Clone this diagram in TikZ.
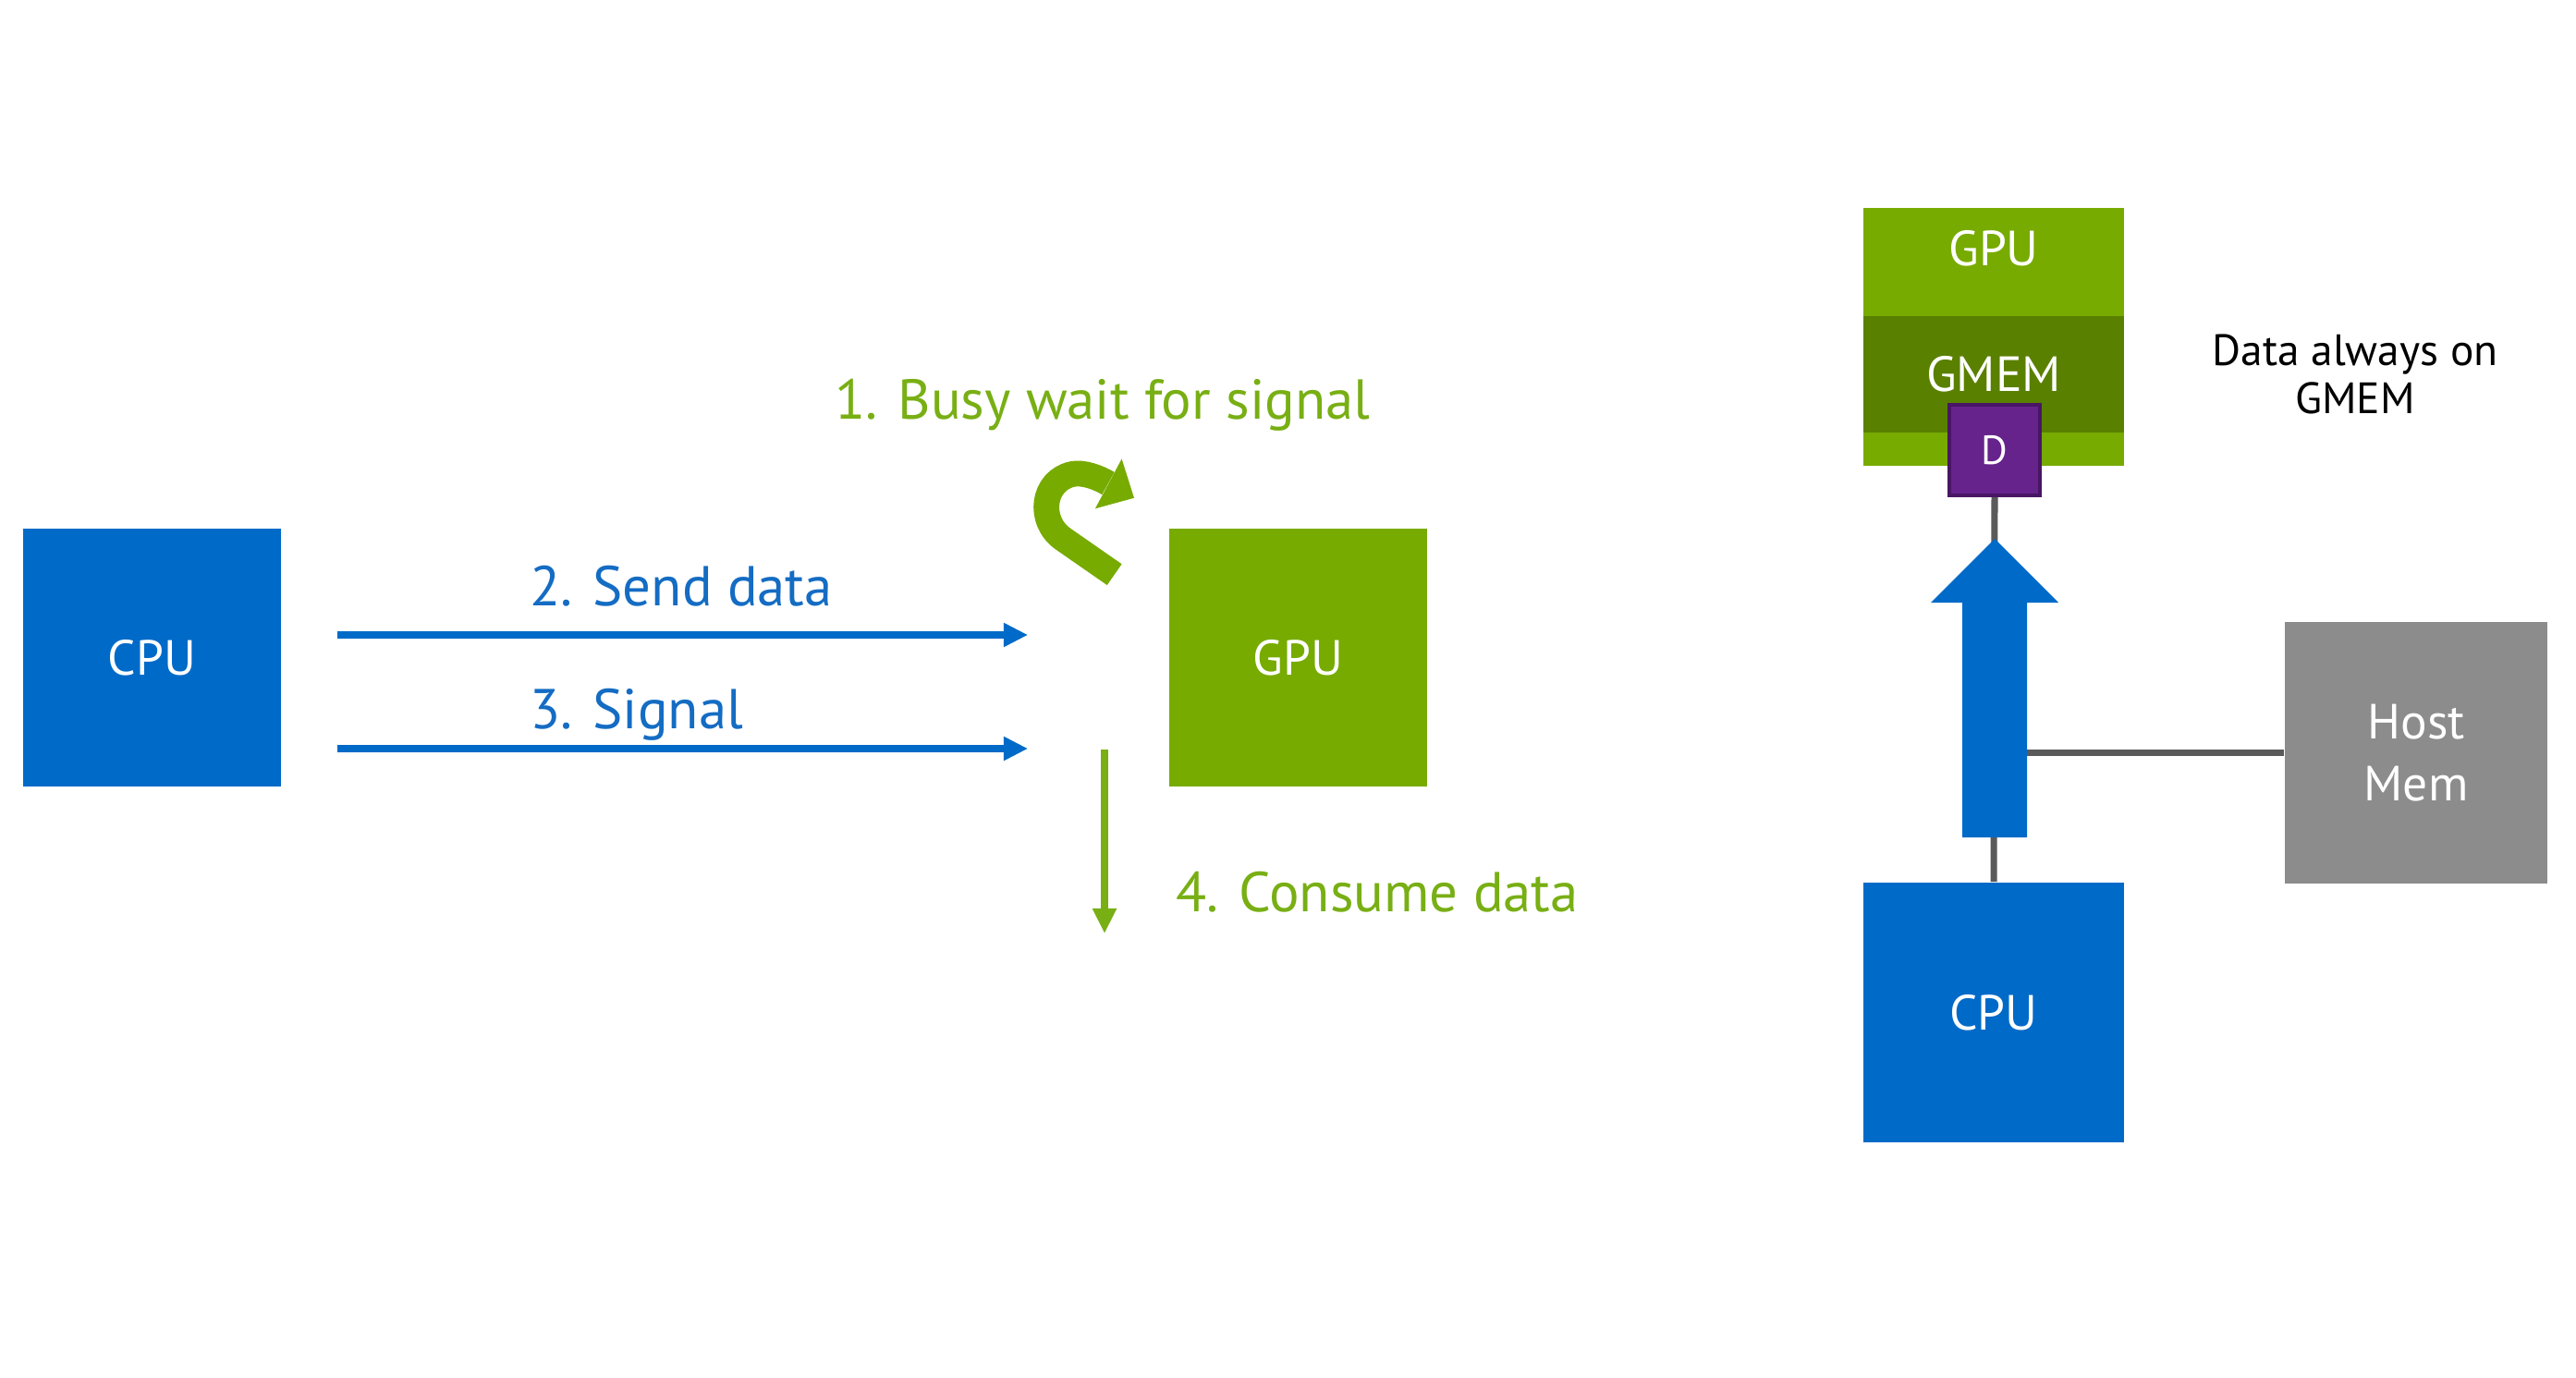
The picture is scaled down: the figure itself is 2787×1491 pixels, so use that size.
\documentclass[tikz,border=0pt]{standalone}
\usepackage{fontspec}
\setmainfont{PT Sans}
\usetikzlibrary{arrows.meta,calc}
\definecolor{nvblue}{RGB}{0,106,200}
\definecolor{nvgreen}{RGB}{119,171,0}
\definecolor{gmemgreen}{RGB}{90,128,0}
\definecolor{txtgreen}{RGB}{120,175,20}
\definecolor{txtblue}{RGB}{20,108,195}
\definecolor{dpurple}{RGB}{102,35,140}
\definecolor{dborder}{RGB}{72,22,100}
\definecolor{hostgrey}{RGB}{140,140,140}
\definecolor{wiregrey}{RGB}{90,90,90}
\begin{document}
\begin{tikzpicture}[x=0.01cm,y=-0.01cm,
  box/.style={rectangle, inner sep=0pt, minimum width=2.79cm, minimum height=2.79cm,
    text=white, font=\fontsize{15.2}{19}\selectfont},
  stackbox/.style={rectangle, inner sep=0pt, minimum width=2.82cm, text=white,
    font=\fontsize{15.2}{19}\selectfont},
  dbox/.style={rectangle, inner sep=0pt, minimum width=0.98cm, minimum height=0.98cm,
    fill=dpurple, draw=dborder, line width=1.2pt, text=white, font=\fontsize{12.5}{14}\selectfont},
  lbl/.style={inner sep=0pt, font=\fontsize{17.3}{20}\selectfont},
  note/.style={inner sep=0pt, align=center, font=\fontsize{13.5}{14.8}\selectfont, text=black},
  sig/.style={draw=nvblue, line width=2pt, -{Triangle[length=7.5pt,width=7pt]}},
  consume/.style={draw=txtgreen, line width=2.2pt, -{Triangle[length=7.7pt,width=7pt]}},
  wire/.style={draw=wiregrey, line width=2pt},
  loop/.style={draw=nvgreen, line width=7.9pt},
]
\useasboundingbox (0,0) rectangle (2787,1491);

% ---------- left part ----------
\node[box, fill=nvblue] (cpuL) at (164.5,711.5) {CPU};
\node[box, fill=nvgreen] (gpuL) at (1404.5,711.5) {GPU};

\coordinate (a2) at (0,687);
\coordinate (a3) at (0,810);
\draw[sig, shorten <=0.6cm, shorten >=1.52cm] (cpuL.east |- a2) -- (gpuL.west |- a2);
\draw[sig, shorten <=0.6cm, shorten >=1.52cm] (cpuL.east |- a3) -- (gpuL.west |- a3);

\node[lbl, text=txtblue, anchor=base west] (t2) at (573,655) {2. Send data};
\node[lbl, text=txtblue, anchor=base west] (t3) at (573,788) {3. Signal};
\node[lbl, text=txtgreen, anchor=base west] (t1) at (903,453) {1. Busy wait for signal};
\node[lbl, text=txtgreen, anchor=base west] (t4) at (1272,986) {4. Consume data};

% busy-wait curl
\draw[loop] (1205.7,621.7) -- (1150,583)
  .. controls (1122,563) and (1128,520) .. (1160,513)
  .. controls (1172,510.5) and (1188,516.5) .. (1199,523);
\fill[nvgreen] (1213.6,496.5) -- (1227,538.8) -- (1184.9,550.3) -- cycle;

% consume arrow
\coordinate (c4s) at (1195,811);
\coordinate (c4e) at (1195,1010);
\draw[consume] (c4s) -- (c4e);

% ---------- right part ----------
\node[stackbox, fill=nvgreen, minimum height=2.79cm] (gpuR) at (2157,364.5) {};
\node[stackbox, fill=none] (gpuRt) at (2157,269) {GPU};
\node[stackbox, fill=gmemgreen, minimum height=1.26cm] (gmem) at (2157,405) {GMEM};
\node[dbox] (D) at (2158,487) {D};

\node[box, fill=nvblue, minimum width=2.82cm, minimum height=2.81cm] (cpuR) at (2157,1095.5) {CPU};
\node[box, fill=hostgrey, minimum width=2.84cm, minimum height=2.83cm, align=center] (host) at (2614,814.5) {Host\\Mem};

\draw[wire] (D.south) -- (cpuR.north);
\draw[wire] (host.west) -- (host.west -| D.south);

% block arrow
\fill[nvblue] (2158,583) -- (2227,652) -- (2193,652) -- (2193,906) -- (2123,906)
  -- (2123,652) -- (2089,652) -- cycle;

\node[note] (n1) at (2548,405) {Data always on\\GMEM};
\end{tikzpicture}
\end{document}
